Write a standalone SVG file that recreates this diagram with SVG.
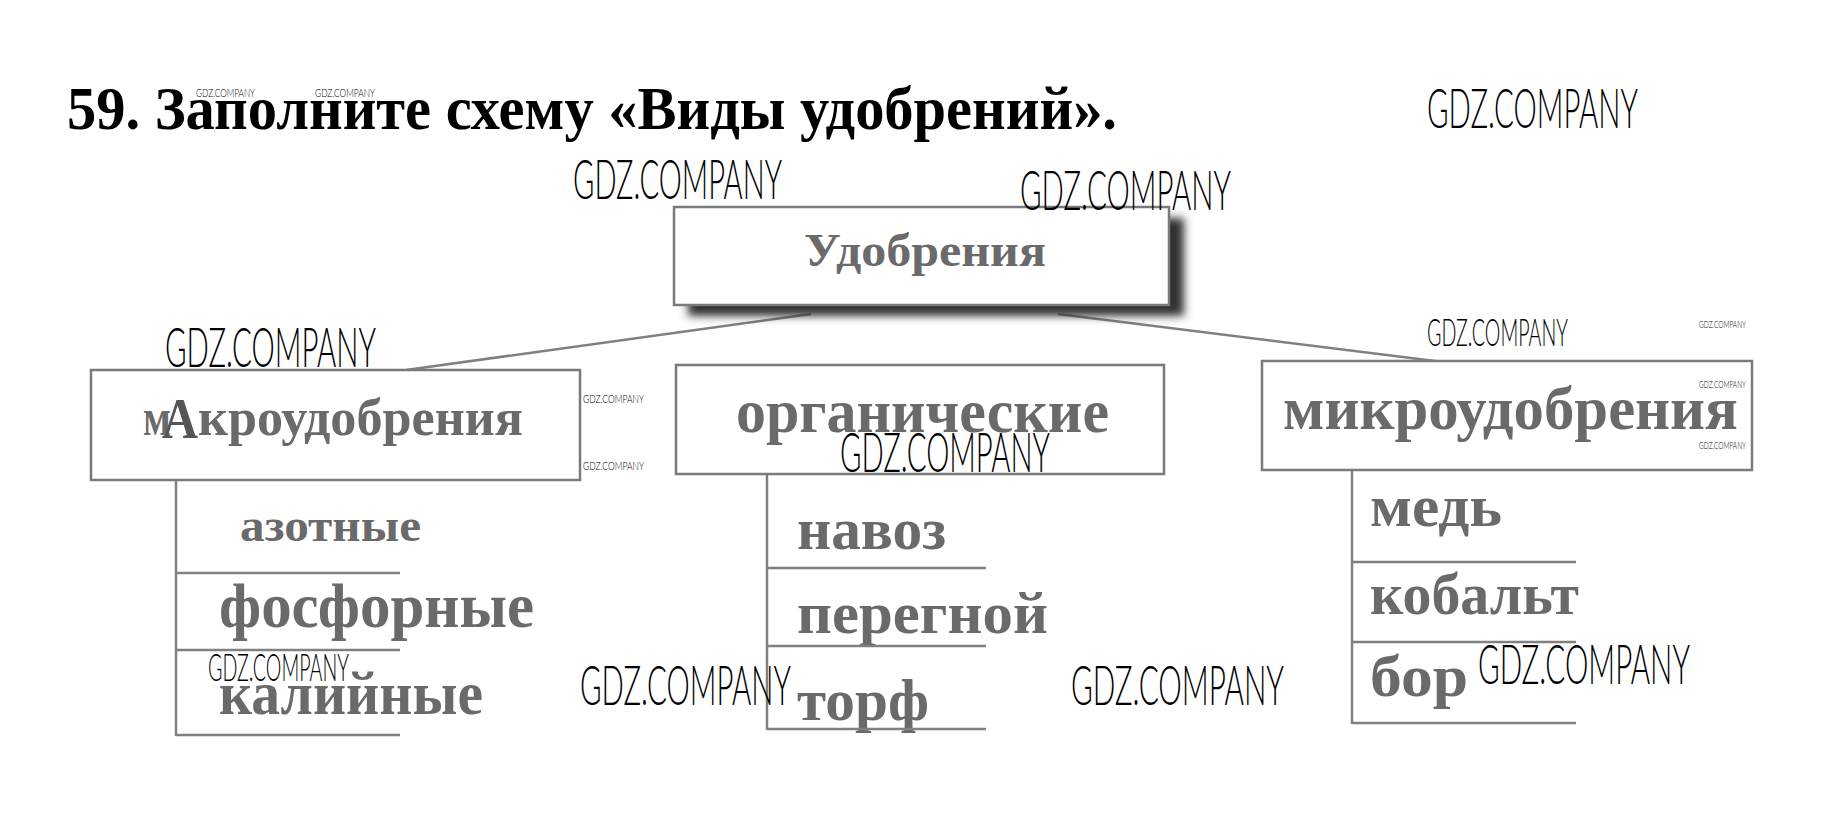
<svg xmlns="http://www.w3.org/2000/svg" width="1844" height="830" viewBox="0 0 1844 830">
<style>
.t{font-family:"Liberation Serif","Noto Sans CJK SC",serif;font-weight:bold;fill:#6a6a6a}
.title{font-family:"Liberation Serif",serif;font-weight:bold;fill:#000}
.box{fill:#fff;stroke:#7a7a7a;stroke-width:2.5}
.ln{stroke:#808080;stroke-width:2.5;fill:none}
.wm{font-family:Lato,"Liberation Sans",sans-serif;font-weight:300;fill:#000}
</style>
<defs>
<filter id="sh" x="-10%" y="-30%" width="120%" height="160%"><feGaussianBlur stdDeviation="4"/></filter>
</defs>
<rect width="1844" height="830" fill="#fff"/>
<text class="title" x="67" y="129" font-size="61" textLength="1050" lengthAdjust="spacingAndGlyphs">59. Заполните схему «Виды удобрений».</text>

<g id="connectors">
<line class="ln" x1="811" y1="314" x2="406" y2="370"/>
<line class="ln" x1="1058" y1="314" x2="1443" y2="362"/>
<line class="ln" x1="176" y1="480" x2="176" y2="736"/>
<line class="ln" x1="767" y1="474" x2="767" y2="730"/>
<line class="ln" x1="1352" y1="470" x2="1352" y2="724"/>
</g>

<g id="root">
<rect x="688" y="218" width="496" height="98" fill="#333" filter="url(#sh)"/>
<rect class="box" x="674" y="207" width="495" height="98"/>
<text class="t" x="804" y="266" font-size="46" textLength="242" lengthAdjust="spacingAndGlyphs">Удобрения</text>
</g>

<g id="macro">
<rect class="box" x="91" y="370" width="489" height="110"/>
<text class="t" x="143" y="435" font-size="52" textLength="28" lengthAdjust="spacingAndGlyphs">м</text>
<text class="t" x="162" y="438" font-size="56" style="fill:#555" textLength="36" lengthAdjust="spacingAndGlyphs">А</text>
<text class="t" x="198" y="435" font-size="52" textLength="325" lengthAdjust="spacingAndGlyphs">кроудобрения</text>
</g>
<g id="organic">
<rect class="box" x="676" y="365" width="488" height="109"/>
<text class="t" x="736" y="432" font-size="62" textLength="373" lengthAdjust="spacingAndGlyphs">органические</text>
</g>
<g id="micro">
<rect class="box" x="1262" y="361" width="490" height="109"/>
<text class="t" x="1283" y="429" font-size="62" textLength="455" lengthAdjust="spacingAndGlyphs">микроудобрения</text>
</g>

<g id="azot"><text class="t" x="240" y="541" font-size="46" textLength="181" lengthAdjust="spacingAndGlyphs">азотные</text><line class="ln" x1="176" y1="573" x2="400" y2="573"/></g>
<g id="fosfor"><text class="t" x="219" y="627" font-size="64" textLength="315" lengthAdjust="spacingAndGlyphs">фосфорные</text><line class="ln" x1="176" y1="650" x2="400" y2="650"/></g>
<g id="kaliy"><text class="t" x="219" y="714" font-size="62" textLength="264" lengthAdjust="spacingAndGlyphs">калийные</text><line class="ln" x1="176" y1="735" x2="400" y2="735"/></g>

<g id="navoz"><text class="t" x="797" y="549" font-size="60" textLength="149" lengthAdjust="spacingAndGlyphs">навоз</text><line class="ln" x1="767" y1="568" x2="986" y2="568"/></g>
<g id="peregnoy"><text class="t" x="797" y="633" font-size="60" textLength="251" lengthAdjust="spacingAndGlyphs">перегной</text><line class="ln" x1="767" y1="646" x2="986" y2="646"/></g>
<g id="torf"><text class="t" x="797" y="720" font-size="60" textLength="132" lengthAdjust="spacingAndGlyphs">торф</text><line class="ln" x1="767" y1="729" x2="986" y2="729"/></g>

<g id="med"><text class="t" x="1370" y="526" font-size="60" textLength="132" lengthAdjust="spacingAndGlyphs">медь</text><line class="ln" x1="1352" y1="562" x2="1576" y2="562"/></g>
<g id="kobalt"><text class="t" x="1370" y="614" font-size="60" textLength="209" lengthAdjust="spacingAndGlyphs">кобальт</text><line class="ln" x1="1352" y1="642" x2="1576" y2="642"/></g>
<g id="bor"><text class="t" x="1370" y="696" font-size="60" textLength="98" lengthAdjust="spacingAndGlyphs">бор</text><line class="ln" x1="1352" y1="723" x2="1576" y2="723"/></g>

<g id="watermarks">
<text class="wm" x="1427" y="128" font-size="56" textLength="211" lengthAdjust="spacingAndGlyphs">GDZ.COMPANY</text>
<text class="wm" x="573" y="199" font-size="56" textLength="209" lengthAdjust="spacingAndGlyphs">GDZ.COMPANY</text>
<text class="wm" x="1020" y="210" font-size="56" textLength="211" lengthAdjust="spacingAndGlyphs">GDZ.COMPANY</text>
<text class="wm" x="165" y="367" font-size="56" textLength="211" lengthAdjust="spacingAndGlyphs">GDZ.COMPANY</text>
<text class="wm" x="840" y="472" font-size="56" textLength="210" lengthAdjust="spacingAndGlyphs">GDZ.COMPANY</text>
<text class="wm" x="580" y="705" font-size="56" textLength="211" lengthAdjust="spacingAndGlyphs">GDZ.COMPANY</text>
<text class="wm" x="1071" y="705" font-size="56" textLength="213" lengthAdjust="spacingAndGlyphs">GDZ.COMPANY</text>
<text class="wm" x="1478" y="684" font-size="56" textLength="212" lengthAdjust="spacingAndGlyphs">GDZ.COMPANY</text>
<text class="wm" x="1427" y="346" font-size="38" textLength="141" lengthAdjust="spacingAndGlyphs">GDZ.COMPANY</text>
<text class="wm" x="208" y="681" font-size="38" textLength="141" lengthAdjust="spacingAndGlyphs">GDZ.COMPANY</text>
<text class="wm" x="196" y="97" font-size="12" textLength="59" lengthAdjust="spacingAndGlyphs">GDZ.COMPANY</text>
<text class="wm" x="315" y="97" font-size="12" textLength="60" lengthAdjust="spacingAndGlyphs">GDZ.COMPANY</text>
<text class="wm" x="583" y="403" font-size="12" textLength="61" lengthAdjust="spacingAndGlyphs">GDZ.COMPANY</text>
<text class="wm" x="583" y="470" font-size="12" textLength="61" lengthAdjust="spacingAndGlyphs">GDZ.COMPANY</text>
<text class="wm" x="1699" y="328" font-size="10" textLength="47" lengthAdjust="spacingAndGlyphs">GDZ.COMPANY</text>
<text class="wm" x="1699" y="388" font-size="10" textLength="47" lengthAdjust="spacingAndGlyphs">GDZ.COMPANY</text>
<text class="wm" x="1699" y="449" font-size="10" textLength="47" lengthAdjust="spacingAndGlyphs">GDZ.COMPANY</text>
</g>
</svg>
